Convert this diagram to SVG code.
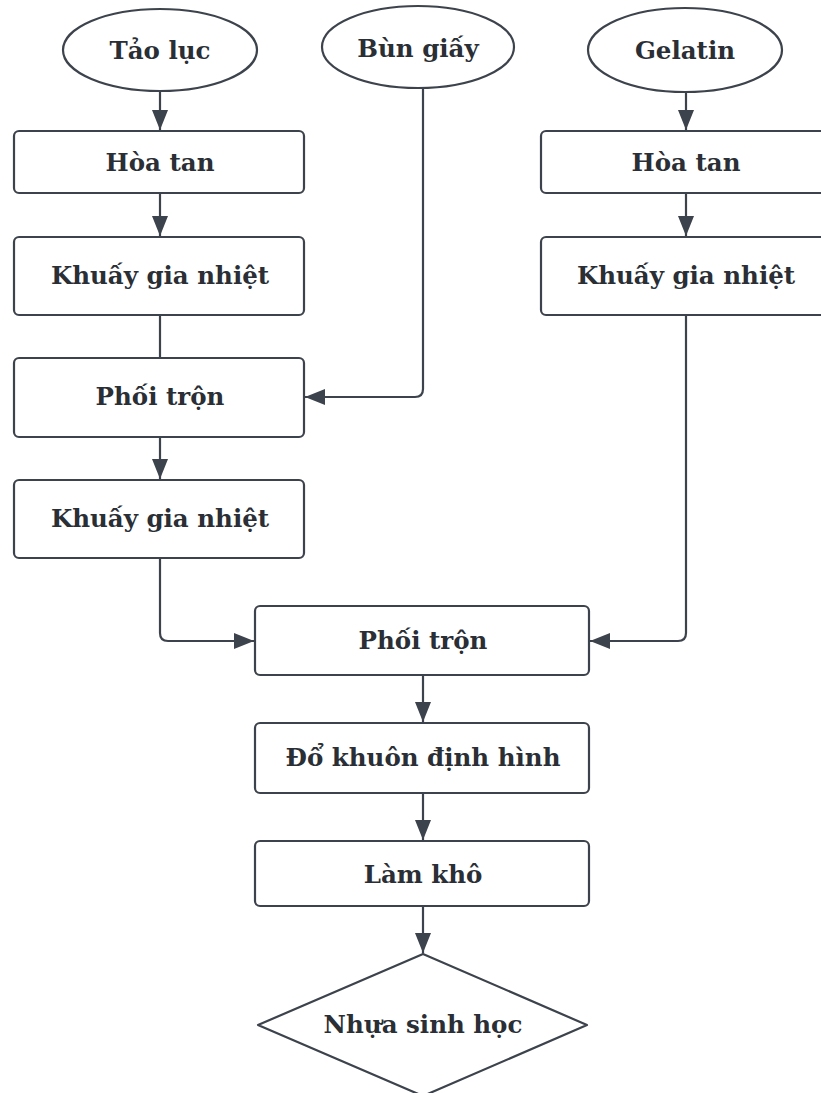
<svg xmlns="http://www.w3.org/2000/svg" width="821" height="1093" viewBox="0 0 821 1093">
<style>
.n{fill:#fff;stroke:#3d434c;stroke-width:2.2}
.t{font-family:"DejaVu Serif","Liberation Serif",serif;font-weight:bold;font-size:24.5px;fill:#2a2e35;text-anchor:middle}
.c{fill:none;stroke:#3d434c;stroke-width:2.2}
</style>
<defs>
<marker id="ah" viewBox="0 0 20 16" refX="20" refY="8" markerWidth="20" markerHeight="16" markerUnits="userSpaceOnUse" orient="auto">
<path d="M0,0 L20,8 L0,16 Z" fill="#3d434c"/>
</marker>
</defs>
<rect width="821" height="1093" fill="#fff"/>
<g id="connectors">
<path class="c" d="M160,91 V130" marker-end="url(#ah)"/>
<path class="c" d="M160,193 V236" marker-end="url(#ah)"/>
<path class="c" d="M160,315 V358"/>
<path class="c" d="M423,88 V389 Q423,397 415,397 H305" marker-end="url(#ah)"/>
<path class="c" d="M160,437 V479" marker-end="url(#ah)"/>
<path class="c" d="M160,558 V633 Q160,641 168,641 H254" marker-end="url(#ah)"/>
<path class="c" d="M686,92 V130" marker-end="url(#ah)"/>
<path class="c" d="M686,193 V236" marker-end="url(#ah)"/>
<path class="c" d="M686,315 V633 Q686,641 678,641 H590" marker-end="url(#ah)"/>
<path class="c" d="M423,675 V722" marker-end="url(#ah)"/>
<path class="c" d="M423,793 V840" marker-end="url(#ah)"/>
<path class="c" d="M423,906 V953" marker-end="url(#ah)"/>
</g>
<g id="tao-luc"><ellipse class="n" cx="160" cy="50" rx="97" ry="41"/><text class="t" x="160" y="59">Tảo lục</text></g>
<g id="bun-giay"><ellipse class="n" cx="418" cy="47" rx="96" ry="41"/><text class="t" x="418" y="57">Bùn giấy</text></g>
<g id="gelatin"><ellipse class="n" cx="685" cy="50" rx="97" ry="42"/><text class="t" x="685" y="59">Gelatin</text></g>
<g id="hoa-tan-1"><rect class="n" x="14" y="131" width="290" height="62" rx="5"/><text class="t" x="160" y="171">Hòa tan</text></g>
<g id="khuay-1"><rect class="n" x="14" y="237" width="290" height="78" rx="5"/><text class="t" x="160" y="284">Khuấy gia nhiệt</text></g>
<g id="phoi-tron-1"><rect class="n" x="14" y="358" width="290" height="79" rx="5"/><text class="t" x="160" y="405">Phối trộn</text></g>
<g id="khuay-2"><rect class="n" x="14" y="480" width="290" height="78" rx="5"/><text class="t" x="160" y="527">Khuấy gia nhiệt</text></g>
<g id="hoa-tan-2"><rect class="n" x="541" y="131" width="290" height="62" rx="5"/><text class="t" x="686" y="171">Hòa tan</text></g>
<g id="khuay-3"><rect class="n" x="541" y="237" width="290" height="78" rx="5"/><text class="t" x="686" y="284">Khuấy gia nhiệt</text></g>
<g id="phoi-tron-2"><rect class="n" x="255" y="606" width="334" height="69" rx="5"/><text class="t" x="423" y="649">Phối trộn</text></g>
<g id="do-khuon"><rect class="n" x="255" y="723" width="334" height="70" rx="5"/><text class="t" x="423" y="766">Đổ khuôn định hình</text></g>
<g id="lam-kho"><rect class="n" x="255" y="841" width="334" height="65" rx="5"/><text class="t" x="423" y="883">Làm khô</text></g>
<g id="nhua"><path class="n" d="M423,954 L587,1025 L423,1096 L258,1025 Z" stroke-linejoin="round"/><text class="t" x="423" y="1033">Nhựa sinh học</text></g>
</svg>
